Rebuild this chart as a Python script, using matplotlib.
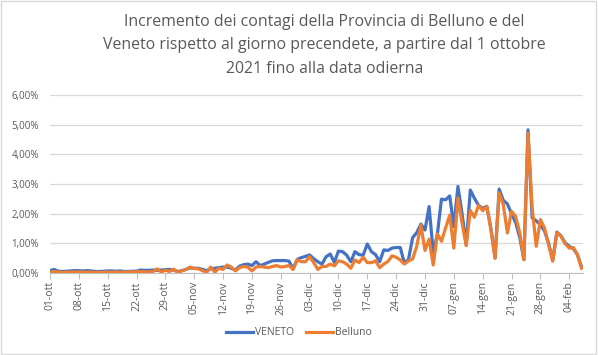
import numpy as np
import pandas as pd
import matplotlib
matplotlib.use('Agg')
import matplotlib.pyplot as plt
from matplotlib.patches import Rectangle
from matplotlib.ticker import FuncFormatter, MultipleLocator

# dati: incremento giornaliero (%) dal 01-ott-2021
veneto = [0.08, 0.12, 0.06, 0.05, 0.06, 0.07, 0.08, 0.08, 0.07, 0.08,
          0.07, 0.05, 0.05, 0.06, 0.07, 0.07, 0.06, 0.07, 0.05, 0.05,
          0.06, 0.06, 0.10, 0.09, 0.09, 0.10, 0.09, 0.10, 0.11, 0.12,
          0.10, 0.05, 0.08, 0.12, 0.17, 0.16, 0.16, 0.12, 0.08, 0.14,
          0.16, 0.18, 0.20, 0.20, 0.16, 0.10, 0.23, 0.28, 0.30, 0.25,
          0.38, 0.25, 0.30, 0.36, 0.41, 0.42, 0.42, 0.42, 0.40, 0.14,
          0.46, 0.52, 0.56, 0.61, 0.48, 0.38, 0.30, 0.55, 0.64, 0.36,
          0.74, 0.72, 0.60, 0.38, 0.72, 0.62, 0.60, 0.98, 0.72, 0.62,
          0.38, 0.78, 0.76, 0.84, 0.86, 0.86, 0.33, 0.46, 1.19, 1.36,
          1.65, 1.45, 2.24, 0.70, 1.30, 2.49, 2.47, 2.60, 1.56, 2.92,
          2.00, 0.95, 2.80, 2.52, 2.28, 2.18, 2.25, 1.50, 0.50, 2.83,
          2.45, 2.33, 2.00, 1.70, 1.20, 0.45, 4.83, 1.86, 1.76, 1.62,
          1.42, 1.00, 0.42, 1.38, 1.25, 1.02, 0.90, 0.82, 0.62, 0.20]

belluno = [0.03, 0.05, 0.03, 0.02, 0.03, 0.03, 0.03, 0.04, 0.03, 0.03,
           0.03, 0.02, 0.02, 0.03, 0.03, 0.03, 0.03, 0.03, 0.03, 0.03,
           0.04, 0.04, 0.05, 0.04, 0.04, 0.05, 0.14, 0.03, 0.10, 0.05,
           0.13, 0.02, 0.07, 0.12, 0.20, 0.15, 0.14, 0.08, 0.02, 0.20,
           0.03, 0.16, 0.12, 0.27, 0.20, 0.07, 0.18, 0.22, 0.20, 0.07,
           0.20, 0.22, 0.20, 0.18, 0.22, 0.25, 0.20, 0.22, 0.25, 0.12,
           0.45, 0.38, 0.38, 0.55, 0.35, 0.12, 0.22, 0.22, 0.30, 0.24,
           0.41, 0.38, 0.30, 0.16, 0.44, 0.35, 0.53, 0.35, 0.35, 0.41,
           0.18, 0.30, 0.39, 0.58, 0.53, 0.44, 0.30, 0.41, 0.47, 0.90,
           1.62, 0.76, 1.14, 0.27, 1.32, 1.07, 1.52, 1.95, 0.84, 2.53,
           1.69, 0.92, 2.11, 1.88, 2.29, 2.10, 2.25, 1.46, 0.50, 2.70,
           2.31, 1.35, 2.08, 1.91, 1.35, 0.45, 4.72, 2.20, 0.90, 1.80,
           1.52, 0.96, 0.40, 1.37, 1.24, 0.99, 0.84, 0.86, 0.61, 0.16]

date = pd.date_range('2021-10-01', periods=len(veneto), freq='D')
mesi = {10: 'ott', 11: 'nov', 12: 'dic', 1: 'gen', 2: 'feb'}

plt.rcParams['font.family'] = ['Open Sans', 'DejaVu Sans']

fig = plt.figure(figsize=(5.98, 3.55), dpi=100)
ax = fig.add_axes([0.0836, 0.231, 0.891, 0.501])

x = np.arange(len(veneto))
ax.plot(x, veneto, color='#4472C4', lw=2.3, label='VENETO', solid_joinstyle='round')
ax.plot(x, belluno, color='#ED7D31', lw=2.3, label='Belluno', solid_joinstyle='round')

ax.set_ylim(0, 6)
ax.set_xlim(0, len(veneto) - 0.7)
ax.yaxis.set_major_locator(MultipleLocator(1))
ax.yaxis.set_major_formatter(FuncFormatter(lambda v, p: f'{v:.2f}%'.replace('.', ',')))
ax.grid(axis='y', color='#d9d9d9', lw=0.9)
ax.set_axisbelow(True)

pos = x[::7]
ax.set_xticks(pos)
ax.set_xticklabels([f'{date[i].day:02d}-{mesi[date[i].month]}' for i in pos], rotation=90)

for s in ['top', 'right', 'left']:
    ax.spines[s].set_visible(False)
ax.spines['bottom'].set_color('#bfbfbf')
ax.tick_params(axis='y', length=0, labelsize=7, labelcolor='#595959', pad=8)
ax.tick_params(axis='x', length=4, color='#bfbfbf', labelsize=7.5, labelcolor='#595959', pad=2)

fig.suptitle('Incremento dei contagi della Provincia di Belluno e del\n'
             'Veneto rispetto al giorno precendete, a partire dal 1 ottobre\n'
             '2021 fino alla data odierna',
             x=0.543, y=0.96, fontsize=11.4, color='#595959', linespacing=1.6)

fig.legend(loc='center', bbox_to_anchor=(0.5, 0.062), ncol=2, frameon=False,
           fontsize=7.5, labelcolor='#595959', handlelength=2.6, handletextpad=0.2,
           columnspacing=1.2)

fig.patches.append(Rectangle((0.002, 0.003), 0.995, 0.993, transform=fig.transFigure,
                             fill=False, edgecolor='#d9d9d9', lw=1))

fig.savefig('out.png', dpi=100)
